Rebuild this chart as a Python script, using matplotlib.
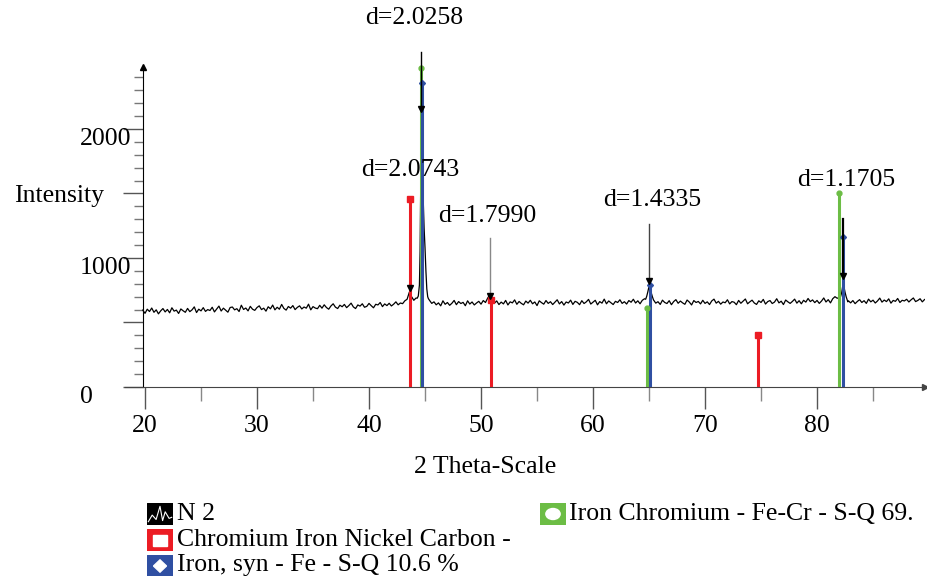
import numpy as np
import matplotlib.pyplot as plt
from matplotlib.patches import Rectangle, Ellipse, Polygon
import matplotlib.transforms as mtransforms

plt.rcParams['font.family'] = ['Liberation Serif', 'DejaVu Serif']
FS = 18.5

scan_start = 19.8
scan_step = 0.2
scan_counts = [
    596, 571, 603, 585, 612, 579, 598, 567, 590, 608,
    582, 601, 575, 614, 588, 596, 570, 605, 591, 579,
    609, 584, 598, 621, 577, 603, 590, 615, 586, 600,
    593, 618, 582, 605, 627, 589, 611, 596, 580, 616,
    620, 598, 607, 585, 634, 601, 612, 590, 625, 603,
    594, 616, 629, 600, 611, 588, 622, 606, 635, 598,
    618, 603, 640, 609, 596, 624, 611, 631, 600, 617,
    629, 605, 620, 611, 642, 598, 623, 612, 607, 633,
    611, 637, 616, 603, 628, 645, 619, 608, 634, 622,
    640, 615, 631, 650, 621, 608, 636, 627, 645, 618,
    625, 648, 630, 614, 641, 636, 655, 623, 644, 631,
    649, 628, 642, 660, 637, 651, 646, 668, 680, 735,
    700, 672, 690, 700, 900, 1400, 1100, 700, 672, 648,
    660, 637, 652, 629, 668, 641, 655, 633, 649, 671,
    638, 662, 647, 656, 630, 668, 643, 659, 636, 651,
    664, 642, 670, 655, 690, 718, 677, 650, 667, 639,
    658, 644, 671, 636, 660, 652, 675, 641, 663, 648,
    637, 666, 650, 672, 645, 659, 631, 668, 654, 642,
    670, 648, 661, 639, 657, 676, 644, 662, 635, 659,
    651, 673, 640, 664, 656, 638, 669, 647, 660, 679,
    643, 658, 672, 637, 662, 650, 681, 645, 667, 653,
    639, 664, 655, 676, 648, 661, 643, 670, 657, 680,
    651, 668, 645, 672, 684, 705, 770, 730, 668, 650,
    661, 640, 673, 655, 647, 669, 638, 662, 677, 649,
    666, 652, 641, 674, 658, 636, 670, 655, 663, 644,
    672, 648, 660, 639, 667, 681, 650, 664, 642, 659,
    653, 676, 644, 662, 657, 638, 671, 649, 665, 682,
    645, 660, 673, 651, 640, 668, 655, 679, 643, 662,
    670, 647, 658, 684, 652, 665, 639, 674, 660, 648,
    663, 681, 650, 669, 645, 672, 658, 686, 662, 675,
    654, 671, 648, 666, 690, 659, 677, 652, 684, 700,
    688, 712, 730, 780, 700, 668, 652, 670, 646, 663,
    677, 655, 669, 648, 681, 660, 673, 651, 667, 689,
    658, 674, 662, 683, 650, 671, 664, 686, 655, 672,
    667, 680, 659, 676, 690, 662, 671, 684, 660, 678,
]

# finer readings across the three Fe peaks (they replace the coarse scan there)
main_peak_theta = [44.3, 44.4, 44.5, 44.56, 44.62, 44.67, 44.72, 44.78, 44.84,
                   44.92, 45.0, 45.08, 45.16, 45.24, 45.3]
main_peak_counts = [688, 705, 790, 1050, 1600, 2160, 2050, 1700, 1450,
                    1230, 1080, 900, 760, 700, 685]
peak65_theta = [64.7, 64.8, 64.9, 64.98, 65.05, 65.12, 65.2, 65.3, 65.4]
peak65_counts = [680, 705, 740, 772, 790, 765, 730, 700, 675]
peak82_theta = [81.9, 82.0, 82.1, 82.2, 82.28, 82.35, 82.42, 82.5, 82.6, 82.7, 82.75]
peak82_counts = [690, 712, 700, 730, 775, 790, 770, 735, 700, 672, 660]

# reference patterns (stick positions, heights)
cinc_pos = [43.65, 50.85, 74.7]
cinc_int = [1460, 675, 400]
fecr_pos = [44.63, 64.85, 81.95]
fecr_int = [2470, 615, 1500]
fe_pos = [44.77, 65.08, 82.35]
fe_int = [2355, 790, 1160]

# peak search results
peak_pos = [43.62, 44.68, 50.78, 65.02, 82.32]
peak_int = [767, 2155, 705, 822, 860]
d_labels = ['d=2.0743', 'd=2.0258', 'd=1.7990', 'd=1.4335', 'd=1.1705']

# where the d labels and marker sticks sit
stick_top = [None, 2600, 1155, 1265, 1300]
stick_color = [None, 'black', '#888888', '#444444', 'black']
stick_width = [None, 1.0, 1.0, 1.0, 1.6]
label_xy = [(43.66, 1682), (44.0, 2860), (50.54, 1326), (65.27, 1450), (82.6, 1605)]

legend_items = ['N 2', 'Chromium Iron Nickel Carbon -', 'Iron, syn - Fe - S-Q 10.6 %',
                'Iron Chromium - Fe-Cr - S-Q 69.']

RED = '#EC1C24'
GREEN = '#6CBD45'
BLUE = '#2F4FA2'

# assemble the scan
theta = scan_start + scan_step * np.arange(len(scan_counts))
counts = np.array(scan_counts, dtype=float)
keep = np.ones(len(theta), dtype=bool)
for seg in (main_peak_theta, peak65_theta, peak82_theta):
    keep &= ~((theta >= seg[0] - 1e-6) & (theta <= seg[-1] + 1e-6))
theta = np.concatenate([theta[keep], main_peak_theta, peak65_theta, peak82_theta])
counts = np.concatenate([counts[keep], main_peak_counts, peak65_counts, peak82_counts])
order = np.argsort(theta)
theta, counts = theta[order], counts[order]

W, H = 927, 576
fig = plt.figure(figsize=(W / 100, H / 100), dpi=100)
ax = fig.add_axes([125 / W, 189 / H, 800 / W, 377 / H])
ax.set_xlim(18.214, 89.64)
ax.set_ylim(0, 2922)

ax.plot(theta, counts, color='black', lw=0.9, zorder=2)

ax.vlines(cinc_pos, 0, cinc_int, color=RED, lw=2.2, zorder=3)
ax.plot(cinc_pos, cinc_int, 's', color=RED, ms=4, zorder=4)
ax.vlines(fecr_pos, 0, fecr_int, color=GREEN, lw=2.2, zorder=3)
ax.plot(fecr_pos, fecr_int, 'o', color=GREEN, ms=3.5, zorder=4)
ax.vlines(fe_pos, 0, fe_int, color=BLUE, lw=2.2, zorder=3)
ax.plot(fe_pos, fe_int, 'D', color=BLUE, ms=3, zorder=4)

for i in range(len(peak_pos)):
    if stick_top[i] is not None:
        ax.plot([peak_pos[i], peak_pos[i]], [peak_int[i], stick_top[i]],
                color=stick_color[i], lw=stick_width[i], zorder=5, clip_on=False)
    ax.text(label_xy[i][0], label_xy[i][1], d_labels[i], fontsize=FS,
            ha='center', va='center', zorder=6, clip_on=False)
ax.plot(peak_pos, peak_int, 'v', color='black', ms=5, zorder=6)

# axes styling
for side in ('top', 'right'):
    ax.spines[side].set_visible(False)
ax.spines['left'].set_position(('data', 19.8))
ax.spines['left'].set_bounds(0, 2480)
ax.spines['left'].set_color('black')
ax.spines['bottom'].set_color('#444444')
ax.plot([19.8], [2480], marker='^', color='black', ms=4, clip_on=False, zorder=7)
ax.plot([89.6], [0], marker='>', color='#444444', ms=4, clip_on=False, zorder=7)

ax.set_xticks([20, 30, 40, 50, 60, 70, 80])
ax.set_xticks([25, 35, 45, 55, 65, 75, 85], minor=True)
ax.set_xticklabels(['20', '30', '40', '50', '60', '70', '80'], fontsize=FS)
ax.tick_params(axis='x', which='major', direction='out', length=15.8, width=1,
               color='#555555', pad=4)
ax.tick_params(axis='x', which='minor', direction='out', length=10, width=1,
               color='#888888')

ax.set_yticks([0, 500, 1000, 1500, 2000])
ax.set_yticks(np.arange(0, 2500, 100), minor=True)
ax.set_yticklabels([])
ax.tick_params(axis='y', which='major', direction='out', length=14.4, width=1,
               color='#555555')
ax.tick_params(axis='y', which='minor', direction='out', length=6.5, width=1,
               color='#777777')
ylab_tr = mtransforms.blended_transform_factory(ax.transAxes, ax.transData)
for v in (0, 1000, 2000):
    ax.text(-0.05625, v - 78, str(v), transform=ylab_tr, fontsize=FS,
            ha='left', va='center', clip_on=False)

ax.text(0.45, -0.212, '2 Theta-Scale', transform=ax.transAxes, fontsize=FS,
        ha='center', va='center')
fig.text(14 / W, 1 - 196 / H, 'Intensity', fontsize=FS, ha='left', va='center')


# legend drawn by hand
def legend_icon(x, y, color, kind):
    iax = fig.add_axes([x / W, 1 - (y + 22) / H, 26 / W, 22 / H])
    iax.set_xlim(0, 1)
    iax.set_ylim(0, 1)
    iax.axis('off')
    iax.add_patch(Rectangle((0, 0), 1, 1, color=color))
    if kind == 'zigzag':
        iax.plot([0.05, 0.2, 0.35, 0.5, 0.6, 0.7, 0.85, 0.95],
                 [0.15, 0.45, 0.25, 0.85, 0.2, 0.6, 0.3, 0.35], color='white', lw=0.8)
    elif kind == 'square':
        iax.add_patch(Rectangle((0.22, 0.25), 0.56, 0.5, color='white'))
    elif kind == 'diamond':
        iax.add_patch(Polygon([[0.5, 0.22], [0.75, 0.5], [0.5, 0.78], [0.25, 0.5]],
                              color='white'))
    elif kind == 'circle':
        iax.add_patch(Ellipse((0.5, 0.5), 0.55, 0.5, color='white'))


legend_icon(147, 503, 'black', 'zigzag')
legend_icon(147, 529, RED, 'square')
legend_icon(147, 555, BLUE, 'diamond')
legend_icon(540, 503, GREEN, 'circle')
fig.text(177 / W, 1 - 514 / H, legend_items[0], fontsize=FS, va='center')
fig.text(177 / W, 1 - 540 / H, legend_items[1], fontsize=FS, va='center')
fig.text(177 / W, 1 - 565 / H, legend_items[2], fontsize=FS, va='center')
fig.text(569 / W, 1 - 514 / H, legend_items[3], fontsize=FS, va='center')

fig.savefig('out.png', dpi=100)
